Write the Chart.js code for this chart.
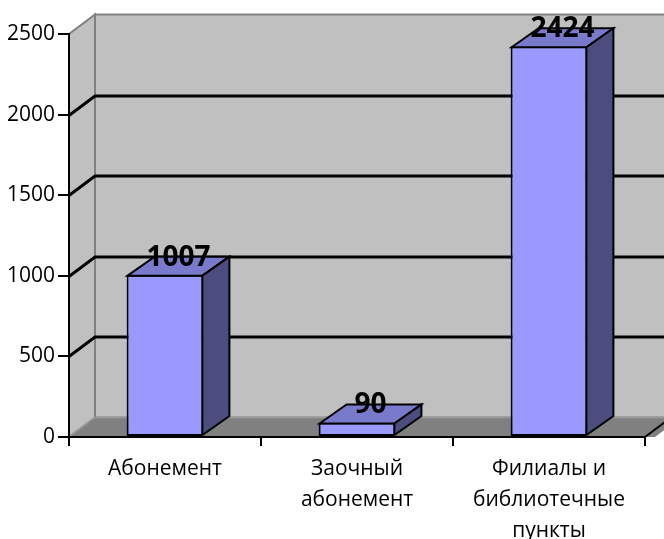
<!DOCTYPE html>
<html lang="ru">
<head>
  <meta charset="UTF-8">
  <title>Bar 3D</title>
  <script src="https://cdn.jsdelivr.net/npm/chart.js"></script>
  <style>
    body { margin: 0; background: #fff; }
    #wrap { width: 664px; height: 539px; }
  </style>
</head>
<body>
  <div id="wrap"><canvas id="chart" width="664" height="539"></canvas></div>

  <script>
    const categories = [['Абонемент'], ['Заочный', 'абонемент'], ['Филиалы и', 'библиотечные', 'пункты']];
    const values = [1007, 90, 2424];
    const yTicks = [0, 500, 1000, 1500, 2000, 2500];

    // depth offsets for the fake 3d look
    const WX = 26, WY = -19.5;   // walls
    const DX = 27, DY = -19;     // bars

    function poly(ctx, pts, fill, stroke, lw) {
      ctx.beginPath();
      ctx.moveTo(pts[0][0], pts[0][1]);
      for (let i = 1; i < pts.length; i++) ctx.lineTo(pts[i][0], pts[i][1]);
      ctx.closePath();
      if (fill) { ctx.fillStyle = fill; ctx.fill(); }
      if (stroke) { ctx.strokeStyle = stroke; ctx.lineWidth = lw || 2; ctx.stroke(); }
    }

    const walls = {
      id: 'walls',
      beforeDraw(chart) {
        const { ctx, chartArea: a, scales: { y } } = chart;
        const L = a.left, R = a.right;
        const T = y.getPixelForValue(yTicks[yTicks.length - 1]);
        const B = y.getPixelForValue(yTicks[0]);
        ctx.save();
        ctx.lineJoin = 'miter';
        // side wall
        poly(ctx, [[L, T], [L + WX, T + WY], [L + WX, B + WY], [L, B]], '#c0c0c0', '#808080', 2);
        // back wall
        poly(ctx, [[L + WX, T + WY], [R + WX + 10, T + WY], [R + WX + 10, B + WY], [L + WX, B + WY]], '#c0c0c0', '#808080', 2);
        // floor
        poly(ctx, [[L, B], [L + WX, B + WY], [R + WX + 10, B + WY], [R + 10, B]], '#808080', null);
        ctx.strokeStyle = '#9a9a9a';
        ctx.lineWidth = 1.5;
        ctx.beginPath();
        ctx.moveTo(L, B); ctx.lineTo(L + WX, B + WY); ctx.lineTo(R + WX + 10, B + WY);
        ctx.stroke();
        // grid lines
        ctx.strokeStyle = '#000';
        ctx.lineWidth = 3;
        yTicks.slice(1, -1).forEach(v => {
          const p = Math.round(y.getPixelForValue(v)) + 0.5;
          ctx.beginPath();
          ctx.moveTo(L, p);
          ctx.lineTo(L + WX, p + WY);
          ctx.lineTo(R + WX + 10, p + WY);
          ctx.stroke();
        });
        // right floor edge
        ctx.lineWidth = 2;
        ctx.beginPath();
        ctx.moveTo(R, B);
        ctx.lineTo(R + WX, B + WY);
        ctx.stroke();
        ctx.restore();
      }
    };

    const bars3d = {
      id: 'bars3d',
      afterDatasetsDraw(chart) {
        const { ctx } = chart;
        const meta = chart.getDatasetMeta(0);
        ctx.save();
        ctx.lineJoin = 'miter';
        meta.data.forEach((bar, i) => {
          const { x, y, base, width } = bar.getProps(['x', 'y', 'base', 'width'], true);
          const l = x - width / 2 + 1, r = x + width / 2 - 1;
          poly(ctx, [[l, y + 1], [l + DX, y + 1 + DY], [r + DX, y + 1 + DY], [r, y + 1]], '#7a7acc', '#000', 2);
          poly(ctx, [[r, y + 1], [r + DX, y + 1 + DY], [r + DX, base - 1 + DY], [r, base - 1]], '#4c4c7f', '#000', 2);
          ctx.fillStyle = '#000';
          ctx.font = 'bold 28px "Open Sans"';
          ctx.textAlign = 'center';
          ctx.textBaseline = 'middle';
          ctx.fillText(String(values[i]), x + DX / 2, y + DY + 2);
        });
        ctx.restore();
      }
    };

    new Chart(document.getElementById('chart'), {
      type: 'bar',
      data: {
        labels: categories,
        datasets: [{
          data: values,
          backgroundColor: '#9999ff',
          borderColor: '#000',
          borderWidth: 2,
          borderSkipped: false,
          categoryPercentage: 1,
          barPercentage: 0.4
        }]
      },
      options: {
        responsive: false,
        animation: false,
        layout: { padding: { top: 34, right: 19, left: 0, bottom: 0 } },
        plugins: { legend: { display: false }, tooltip: { enabled: false } },
        scales: {
          x: {
            afterFit: s => { s.height = 102; },
            grid: { drawOnChartArea: false, color: '#000', lineWidth: 2, tickLength: 9 },
            border: { color: '#000', width: 2 },
            ticks: {
              color: '#000', padding: 7, maxRotation: 0, autoSkip: false,
              font: { family: '"Open Sans"', size: 21, lineHeight: 1.48 }
            }
          },
          y: {
            min: yTicks[0],
            max: yTicks[yTicks.length - 1],
            afterFit: s => { s.width = 69; },
            grid: { drawOnChartArea: false, color: '#000', lineWidth: 2, tickLength: 11 },
            border: { color: '#000', width: 2 },
            ticks: {
              stepSize: yTicks[1] - yTicks[0], color: '#000', padding: 3,
              font: { family: '"Open Sans"', size: 21 },
              callback: v => String(v)
            }
          }
        }
      },
      plugins: [walls, bars3d]
    });
  </script>
</body>
</html>
